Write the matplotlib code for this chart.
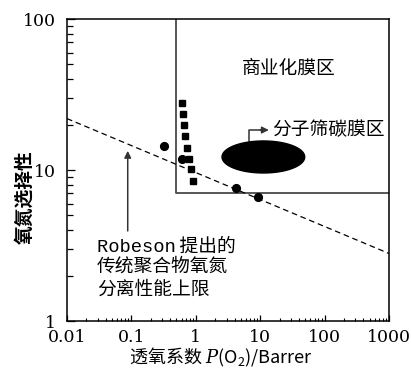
import matplotlib
matplotlib.use('Agg')
import matplotlib.pyplot as plt
import numpy as np
from matplotlib.ticker import FixedLocator, LogLocator, NullFormatter

plt.rcParams['font.family'] = ['Noto Sans CJK SC', 'DejaVu Sans']
plt.rcParams['mathtext.fontset'] = 'custom'
plt.rcParams['mathtext.rm'] = 'Noto Sans CJK SC'
plt.rcParams['mathtext.it'] = 'DejaVu Serif:italic'

# --- data ---
# Robeson upper bound (dashed line), end points
robeson_p = [0.01, 1000]
robeson_sel = [21.9, 2.8]

# circles
circle_p = [0.32, 0.60, 4.2, 9.1]
circle_sel = [14.5, 11.8, 7.6, 6.6]

# squares
square_p = [0.60, 0.63, 0.66, 0.68, 0.74, 0.79, 0.84, 0.89]
square_sel = [27.7, 23.4, 19.9, 16.7, 14.0, 11.9, 10.1, 8.5]

# commercial membrane region (lower-left corner, extends to the frame)
commercial_p = [0.5, 1000]
commercial_sel = [7.0, 100]

# molecular-sieve carbon membrane region (ellipse in log space)
cms_center = (11.2, 12.2)
cms_half_decades = (0.642, 0.106)

x_ticks = [0.01, 0.1, 1, 10, 100, 1000]
x_ticklabels = ['0.01', '0.1', '1', '10', '100', '1000']
y_ticks = [1, 10, 100]
y_ticklabels = ['1', '10', '100']

fig = plt.figure(figsize=(4.11, 3.70), dpi=100)
ax = fig.add_axes([0.163, 0.1324, 0.7835, 0.8162])
ax.set_xscale('log')
ax.set_yscale('log')
ax.set_xlim(0.01, 1000)
ax.set_ylim(1, 100)

# commercial region box
ax.plot([commercial_p[0], commercial_p[0], commercial_p[1]],
        [commercial_sel[1], commercial_sel[0], commercial_sel[0]],
        color='#4a4a4a', lw=1.3, zorder=2)

# Robeson line
ax.plot(robeson_p, robeson_sel, color='black', lw=0.9, dashes=(4.5, 3), zorder=2)

ax.plot(circle_p, circle_sel, 'o', color='black', ms=5.6, zorder=3)
ax.plot(square_p, square_sel, 's', color='black', ms=5.0, zorder=3)

# ellipse
t = np.linspace(0, 2 * np.pi, 200)
ex = 10 ** (np.log10(cms_center[0]) + cms_half_decades[0] * np.cos(t))
ey = 10 ** (np.log10(cms_center[1]) + cms_half_decades[1] * np.sin(t))
ax.fill(ex, ey, color='black', zorder=3)

# labels and arrows
txt_size = 13.5
ax.text(27.5, 47.2, '商业化膜区', ha='center', va='center', fontsize=txt_size)

ax.plot([6.78, 6.78, 10.5], [15.6, 18.4, 18.4], color='#333333', lw=1.1)
ax.annotate('', xy=(13.6, 18.4), xytext=(10.0, 18.4),
            arrowprops=dict(arrowstyle='-|>', color='#333333', lw=1.1,
                            mutation_scale=10, shrinkA=0, shrinkB=0))
ax.text(15.1, 18.4, '分子筛碳膜区', ha='left', va='center', fontsize=txt_size)

ax.annotate('', xy=(0.0877, 13.4), xytext=(0.0877, 3.95),
            arrowprops=dict(arrowstyle='-|>', color='#333333', lw=1.1,
                            mutation_scale=10, shrinkA=0, shrinkB=0))

rob_lines = ['Robeson\u2009提出的', '传统聚合物氧氮', '分离性能上限']
rob_y = [3.10, 2.29, 1.60]
for line, yy in zip(rob_lines, rob_y):
    ax.text(0.0289, yy, line, ha='left', va='center', fontsize=txt_size,
            family=['Liberation Mono', 'Noto Sans CJK SC', 'DejaVu Sans'])

# axes styling
for sp in ax.spines.values():
    sp.set_linewidth(1.1)
ax.xaxis.set_major_locator(FixedLocator(x_ticks))
ax.set_xticklabels(x_ticklabels, family='DejaVu Serif', fontsize=12.5)
ax.yaxis.set_major_locator(FixedLocator(y_ticks))
ax.set_yticklabels(y_ticklabels, family='DejaVu Serif', fontsize=12.5)
ax.xaxis.set_minor_locator(LogLocator(base=10, subs=np.arange(2, 10)))
ax.yaxis.set_minor_locator(LogLocator(base=10, subs=np.arange(2, 10)))
ax.xaxis.set_minor_formatter(NullFormatter())
ax.yaxis.set_minor_formatter(NullFormatter())
ax.tick_params(axis='x', which='major', direction='in', length=4, width=0.9, pad=6)
ax.tick_params(axis='x', which='minor', direction='in', length=2.2, width=0.8)
ax.tick_params(axis='y', which='major', direction='in', length=6, width=0.9, pad=8)
ax.tick_params(axis='y', which='minor', direction='in', length=4, width=0.9)

fig.text(0.5365, 0.035, r'透氧系数 $P$(O$_2$)/Barrer', fontsize=13,
         ha='center', va='center')
fig.text(0.06, 0.468, '氧氮选择性', fontsize=txt_size, fontweight='bold',
         rotation=90, ha='center', va='center')

fig.savefig('out.png', dpi=100)
